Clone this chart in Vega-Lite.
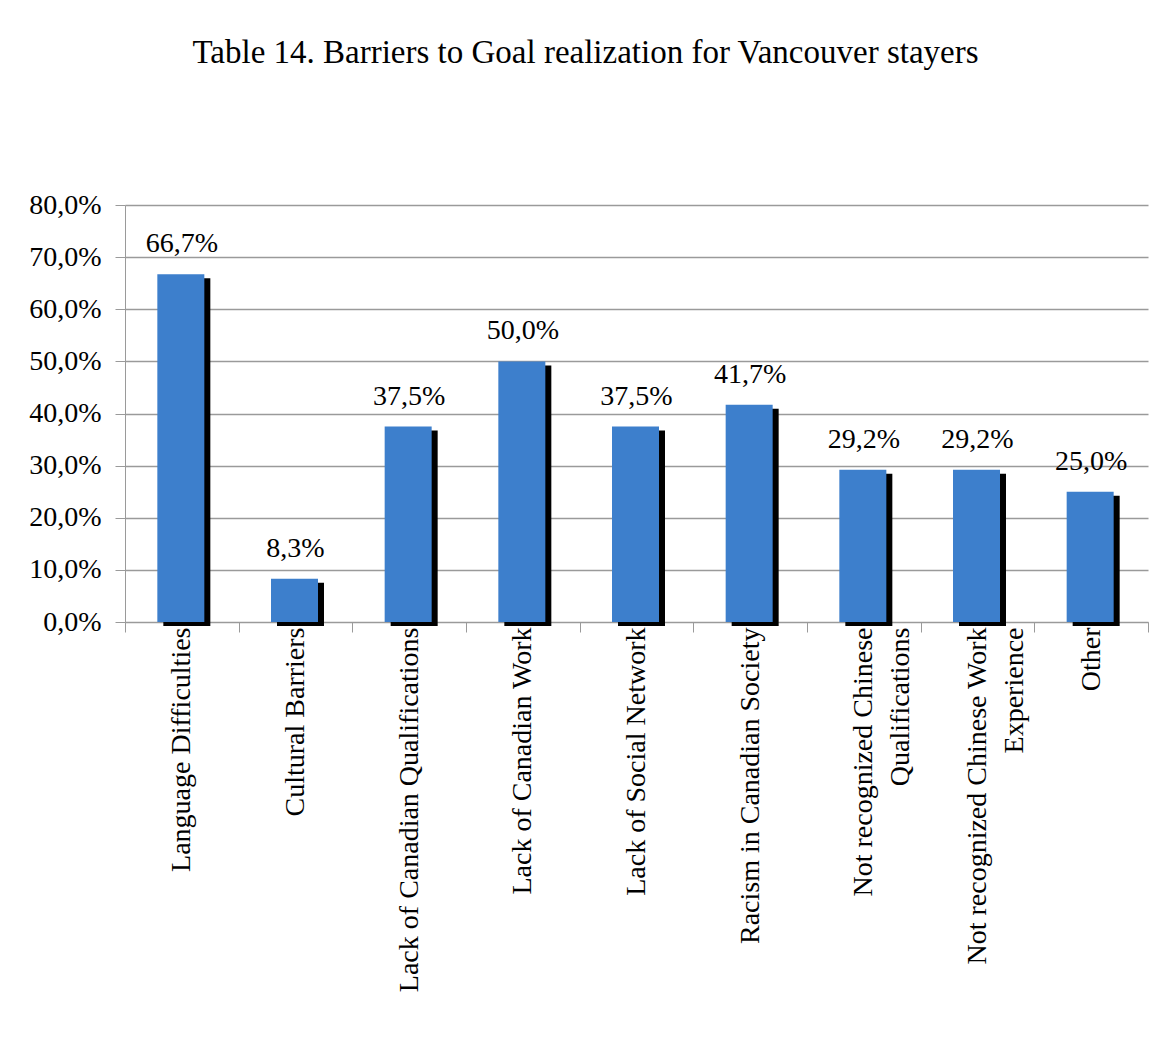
{
  "$schema": "https://vega.github.io/schema/vega-lite/v6.json",
  "autosize": {"type": "none"},
  "width": 1023,
  "height": 417,
  "padding": {"left": 125, "top": 205, "right": 13, "bottom": 431},
  "background": "white",
  "title": {
    "text": "Table 14. Barriers to Goal realization for Vancouver stayers",
    "font": "Liberation Serif",
    "fontSize": 33,
    "fontWeight": "normal",
    "color": "black",
    "anchor": "middle",
    "baseline": "alphabetic",
    "offset": 95,
    "dx": -51
  },
  "data": {
    "values": [
      {"barrier": "Language Difficulties", "share": 0.667},
      {"barrier": "Cultural Barriers", "share": 0.083},
      {"barrier": "Lack of Canadian Qualifications", "share": 0.375},
      {"barrier": "Lack of Canadian Work", "share": 0.5},
      {"barrier": "Lack of Social Network", "share": 0.375},
      {"barrier": "Racism in Canadian Society", "share": 0.417},
      {"barrier": "Not recognized Chinese Qualifications", "share": 0.292},
      {"barrier": "Not recognized Chinese Work Experience", "share": 0.292},
      {"barrier": "Other", "share": 0.25}
    ]
  },
  "encoding": {
    "x": {
      "field": "barrier",
      "type": "nominal",
      "sort": null,
      "title": null,
      "scale": {"paddingInner": 0, "paddingOuter": 0},
      "axis": {
        "labelAngle": -90,
        "labelFont": "Liberation Serif",
        "labelFontSize": 28,
        "labelColor": "black",
        "labelPadding": -5,
        "labelLineHeight": 37,
        "labelLimit": 0,
        "labelOverlap": false,
        "domainColor": "#9a9a9a",
        "tickColor": "#9a9a9a",
        "tickSize": 10,
        "tickBand": "extent",
        "grid": false,
        "labelExpr": "datum.value == 'Not recognized Chinese Qualifications' ? ['Not recognized Chinese', 'Qualifications'] : datum.value == 'Not recognized Chinese Work Experience' ? ['Not recognized Chinese  Work', 'Experience'] : datum.value"
      }
    },
    "y": {
      "field": "share",
      "type": "quantitative",
      "title": null,
      "scale": {"domain": [0, 0.8], "nice": false},
      "axis": {
        "values": [0, 0.1, 0.2, 0.3, 0.4, 0.5, 0.6, 0.7, 0.8],
        "format": ".1%",
        "labelFont": "Liberation Serif",
        "labelFontSize": 28,
        "labelColor": "black",
        "labelPadding": 14,
        "domainColor": "#9a9a9a",
        "tickColor": "#9a9a9a",
        "tickSize": 10,
        "gridColor": "#9a9a9a",
        "gridWidth": 1.5
      }
    }
  },
  "layer": [
    {"mark": {"type": "bar", "color": "black", "size": 47, "xOffset": 5, "yOffset": 4}},
    {"mark": {"type": "bar", "color": "#3d7fcc", "size": 47, "xOffset": -1}},
    {
      "mark": {"type": "text", "font": "Liberation Serif", "fontSize": 28, "color": "black", "baseline": "alphabetic", "dy": -22},
      "encoding": {"text": {"field": "share", "type": "quantitative", "format": ".1%"}}
    }
  ],
  "config": {
    "locale": {"number": {"decimal": ",", "thousands": ".", "grouping": [3], "currency": ["", " €"]}},
    "view": {"stroke": null}
  }
}
